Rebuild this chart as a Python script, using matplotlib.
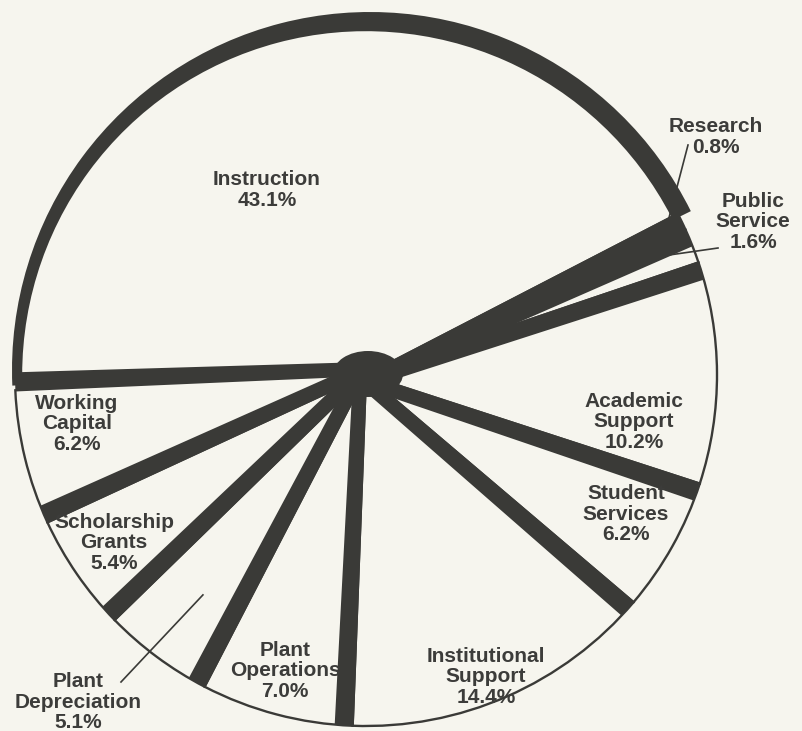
import numpy as np
import matplotlib.pyplot as plt
from matplotlib.patches import Wedge, Polygon, Ellipse

# slices, clockwise from the left edge of Instruction
labels = ['Instruction', 'Research', 'Public\nService', 'Academic\nSupport',
          'Student\nServices', 'Institutional\nSupport', 'Plant\nOperations',
          'Plant\nDepreciation', 'Scholarship\nGrants', 'Working\nCapital']
shares = [43.1, 0.8, 1.6, 10.2, 6.2, 14.4, 7.0, 5.1, 5.4, 6.2]

# where each label block sits (pixels, y up)
label_xy = [(267, 541), (716, 594), (753, 509), (634, 309), (626, 217),
            (486, 54), (285, 60), (78, 29), (114, 188), (77, 307)]
# leader lines: label end, and radius fraction of the slice end
leaders = {1: ((688, 586), 0.95), 2: ((718, 483), 0.93), 7: ((121, 49), 0.78)}

ink = '#3a3a37'
paper = '#f6f5ee'
txt = '#3c3c3a'

cx, cy, R = 366, 356, 351
c = np.array([cx, cy], dtype=float)

fig = plt.figure(figsize=(8.03, 7.31), dpi=100, facecolor=paper)
ax = fig.add_axes([0, 0, 1, 1])
ax.set_facecolor(paper)

wedges, _ = ax.pie(shares, center=(cx, cy), radius=R, startangle=182.5,
                   counterclock=False,
                   wedgeprops=dict(facecolor=paper, edgecolor=ink, linewidth=1.7))

# Instruction: smaller face with heavy rim behind it
w0 = wedges[0]
ax.add_patch(Wedge((cx + 4, cy + 5), R + 7, w0.theta1 - 1, w0.theta2,
                   facecolor=ink, edgecolor='none', zorder=0.5))
w0.set_radius(R - 6)

# dark side band on the leading (clockwise start) edge of every slice
w_in, w_out = 13, 18
for w in wedges:
    t = np.radians(w.theta2)
    u = np.array([np.cos(t), np.sin(t)])
    n = np.array([np.sin(t), -np.cos(t)])
    t2 = t - w_out / R
    pts = [c, c + R * u, c + R * np.array([np.cos(t2), np.sin(t2)]), c + n * w_in]
    ax.add_patch(Polygon(pts, closed=True, facecolor=ink, edgecolor='none', zorder=3))
ax.add_patch(Ellipse((cx + 2, cy + 1), 70, 46, facecolor=ink, edgecolor='none', zorder=3))

for i, (lab, val) in enumerate(zip(labels, shares)):
    x, y = label_xy[i]
    ax.text(x, y, f'{lab}\n{val:.1f}%', ha='center', va='center',
            fontsize=15, fontweight='bold', family='Liberation Sans',
            color=txt, linespacing=1.12, zorder=5)

for i, ((lx, ly), frac) in leaders.items():
    w = wedges[i]
    t = np.radians((w.theta1 + w.theta2) / 2)
    px, py = cx + frac * R * np.cos(t), cy + frac * R * np.sin(t)
    ax.plot([lx, px], [ly, py], color=ink, linewidth=1.2, zorder=4)

ax.set_xlim(0, 803)
ax.set_ylim(0, 731)
ax.set_aspect('equal')
ax.axis('off')

fig.savefig('out.png', dpi=100, facecolor=paper)
